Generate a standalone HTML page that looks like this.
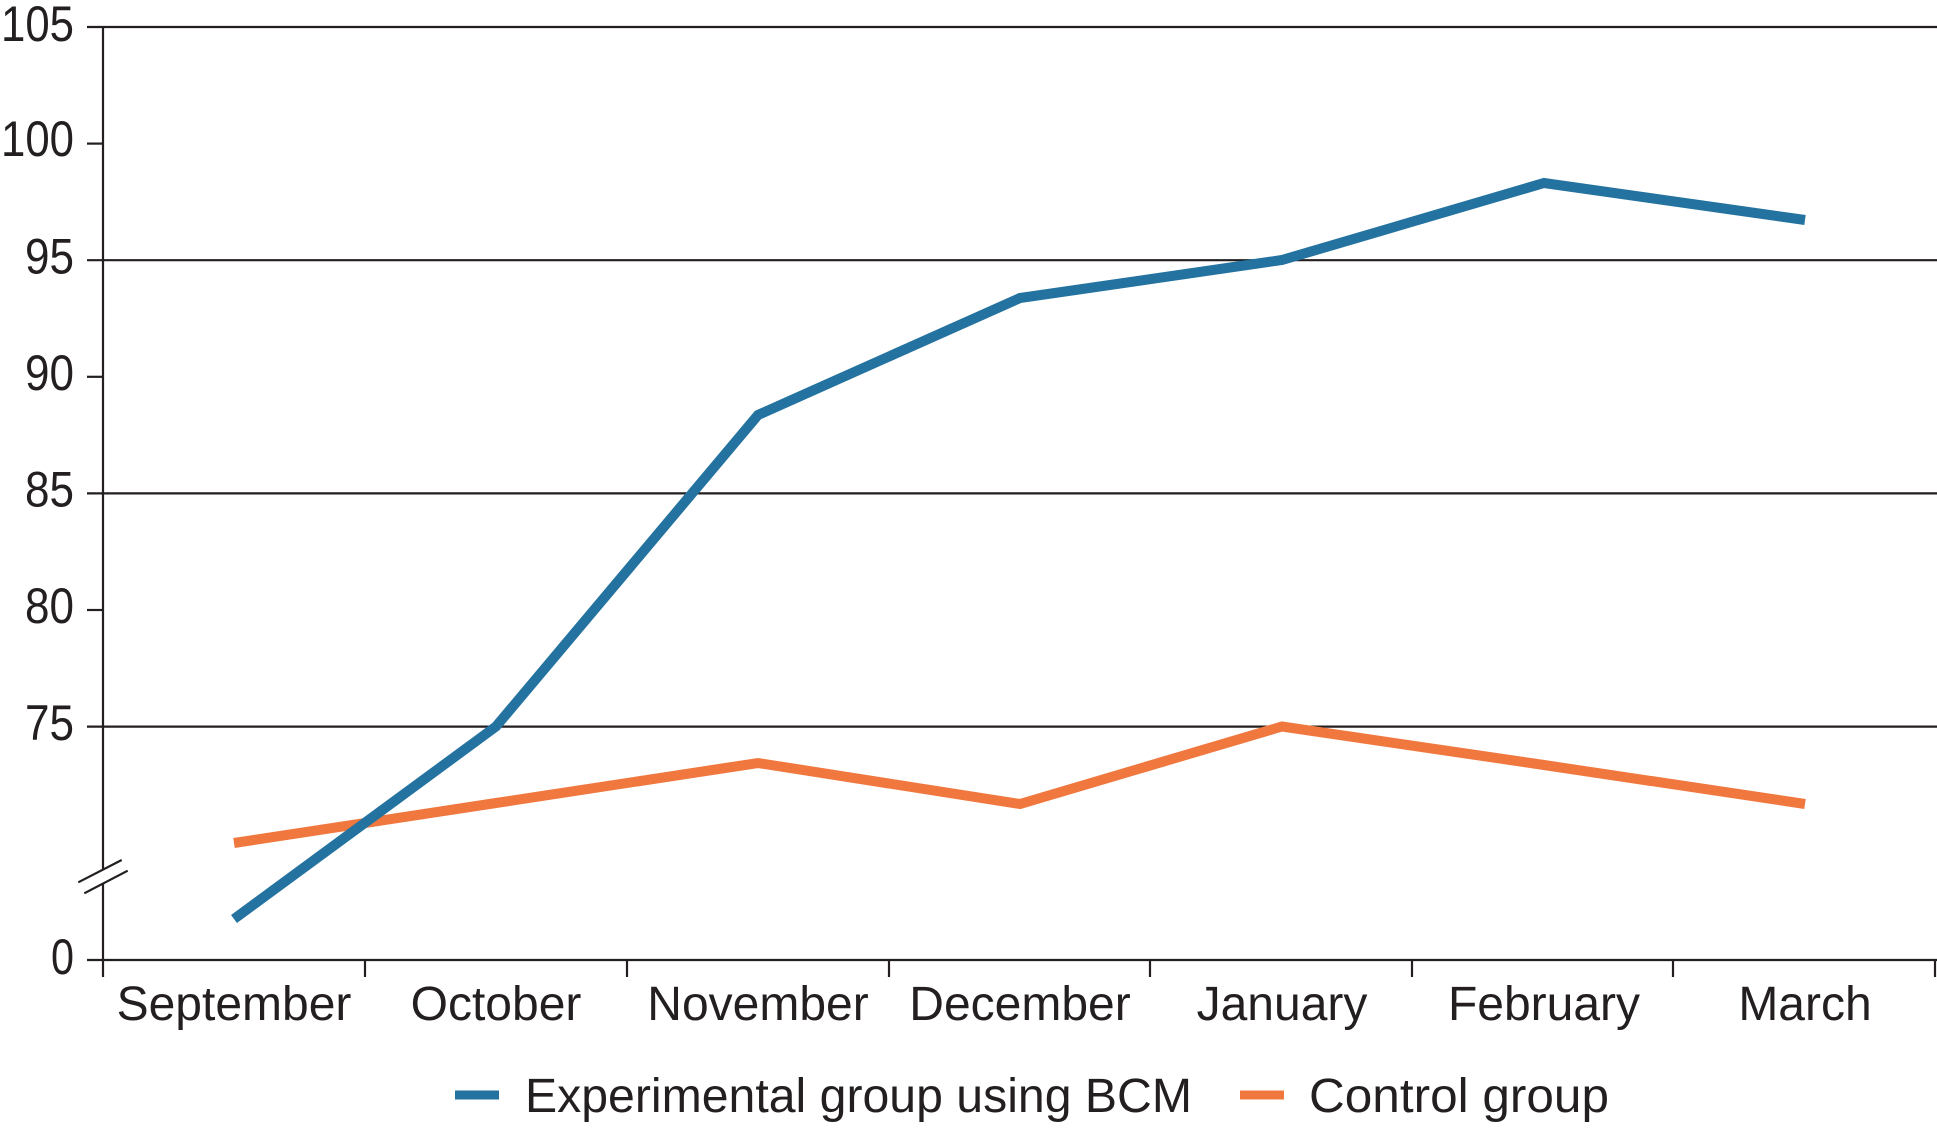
<!DOCTYPE html>
<html>
<head>
<meta charset="utf-8">
<style>
  html, body { margin: 0; padding: 0; background: #ffffff; }
  svg { display: block; }
  text { font-family: "Liberation Sans", "DejaVu Sans", sans-serif; fill: #231f20; }
</style>
</head>
<body>
<svg width="1937" height="1129" viewBox="0 0 1937 1129" xmlns="http://www.w3.org/2000/svg">
  <rect x="0" y="0" width="1937" height="1129" fill="#ffffff"/>

  <!-- gridlines -->
  <g stroke="#231f20" stroke-width="2.2" fill="none">
    <line x1="87" y1="27" x2="1937" y2="27"/>
    <line x1="87" y1="260.2" x2="1937" y2="260.2"/>
    <line x1="87" y1="493.4" x2="1937" y2="493.4"/>
    <line x1="87" y1="726.6" x2="1937" y2="726.6"/>
    <!-- minor ticks -->
    <line x1="87" y1="143.6" x2="103" y2="143.6"/>
    <line x1="87" y1="376.8" x2="103" y2="376.8"/>
    <line x1="87" y1="610" x2="103" y2="610"/>
    <!-- zero tick / x axis -->
    <line x1="87" y1="960" x2="1937" y2="960"/>
    <!-- y axis with break -->
    <line x1="103" y1="26" x2="103" y2="870"/>
    <line x1="103" y1="884" x2="103" y2="977"/>
    <!-- break marks -->
    <line x1="78.3" y1="882.3" x2="121.7" y2="860"/>
    <line x1="84.3" y1="893.3" x2="127.7" y2="870.7"/>
    <!-- x ticks -->
    <line x1="365" y1="960" x2="365" y2="977"/>
    <line x1="627" y1="960" x2="627" y2="977"/>
    <line x1="889" y1="960" x2="889" y2="977"/>
    <line x1="1150" y1="960" x2="1150" y2="977"/>
    <line x1="1412" y1="960" x2="1412" y2="977"/>
    <line x1="1673" y1="960" x2="1673" y2="977"/>
    <line x1="1935" y1="960" x2="1935" y2="977"/>
  </g>

  <!-- y labels -->
  <g font-size="50" text-anchor="end">
    <text x="74" y="41" textLength="73" lengthAdjust="spacingAndGlyphs">105</text>
    <text x="74" y="156" textLength="73" lengthAdjust="spacingAndGlyphs">100</text>
    <text x="74" y="273.5" textLength="49" lengthAdjust="spacingAndGlyphs">95</text>
    <text x="74" y="390" textLength="49" lengthAdjust="spacingAndGlyphs">90</text>
    <text x="74" y="506.5" textLength="49" lengthAdjust="spacingAndGlyphs">85</text>
    <text x="74" y="623" textLength="49" lengthAdjust="spacingAndGlyphs">80</text>
    <text x="74" y="740" textLength="49" lengthAdjust="spacingAndGlyphs">75</text>
    <text x="74" y="974" textLength="23" lengthAdjust="spacingAndGlyphs">0</text>
  </g>

  <!-- x labels -->
  <g font-size="48" text-anchor="middle">
    <text x="234" y="1020">September</text>
    <text x="496" y="1020">October</text>
    <text x="758" y="1020">November</text>
    <text x="1020" y="1020">December</text>
    <text x="1282" y="1020">January</text>
    <text x="1544" y="1020">February</text>
    <text x="1805" y="1020">March</text>
  </g>

  <!-- series -->
  <polyline fill="none" stroke="#f0783f" stroke-width="10" stroke-linejoin="miter" stroke-linecap="butt"
    points="234,843 496,803 758,763 1020,804 1282,726.5 1544,765 1805,804"/>
  <polyline fill="none" stroke="#23729f" stroke-width="10" stroke-linejoin="miter" stroke-linecap="butt"
    points="234,919 496,726.5 758,415 1020,298 1282,260 1544,183 1805,220"/>

  <!-- legend -->
  <line x1="455" y1="1095" x2="499" y2="1095" stroke="#23729f" stroke-width="9"/>
  <text x="525" y="1112" font-size="48" textLength="667" lengthAdjust="spacingAndGlyphs">Experimental group using BCM</text>
  <line x1="1240" y1="1095" x2="1284" y2="1095" stroke="#f0783f" stroke-width="9"/>
  <text x="1309" y="1112" font-size="48" textLength="300" lengthAdjust="spacingAndGlyphs">Control group</text>
</svg>
</body>
</html>
